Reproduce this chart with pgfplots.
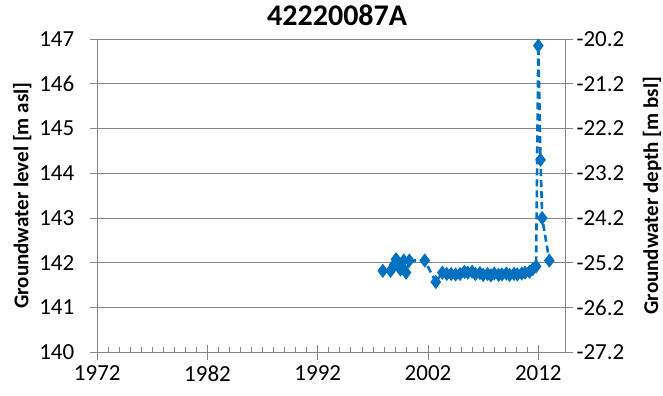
\documentclass[border=0pt]{standalone}
\usepackage{fontspec}
\setmainfont{Carlito}
\usepackage{pgfplots}
\pgfplotsset{compat=1.18}
\definecolor{xblue}{RGB}{0,112,192}
\definecolor{axgray}{RGB}{134,134,134}
\begin{document}
\begin{tikzpicture}
\pgfplotsset{
  common/.style={
    at={(0bp,0bp)}, anchor=south west,
    scale only axis, width=467.7bp, height=313.3bp,
    xmin=1972, xmax=2014.42,
    axis line style={axgray, line width=0.8bp},
    tick style={axgray, line width=0.8bp},
    ticklabel style={font=\fontsize{23bp}{27bp}\selectfont, text=black},
    /pgf/number format/assume math mode=true,
    /pgf/number format/1000 sep={},
  }
}
\begin{axis}[common,
  ymin=140, ymax=147,
  xtick={1972,1982,1992,2002,2012},
  minor x tick num=9,
  ytick={140,141,142,143,144,145,146,147},
  xtick pos=bottom, ytick pos=left,
  axis x line*=bottom, axis y line*=left,
  tick align=center,
  major tick length=15bp, minor tick length=5bp,
  minor x tick style={yshift=2.5bp},
  ymajorgrids, grid style={axgray, line width=0.8bp},
  xticklabel style={yshift=-2bp},
  yticklabel style={xshift=-12bp},
  title={\bfseries 42220087A},
  title style={font=\fontsize{30bp}{34bp}\selectfont, at={(axis description cs:0.5,1)}, anchor=center, yshift=18bp, xshift=6bp},
  ylabel={\bfseries Groundwater level [m asl]},
  ylabel style={font=\fontsize{21bp}{25bp}\selectfont, at={(axis description cs:-0.1604,0.5)}, anchor=center, rotate=0},
]
\addplot[xblue, line width=2.6bp, dash pattern=on 7bp off 4bp, mark=diamond*, mark size=5bp, mark options={solid, fill=xblue}] coordinates {
(1997.9,141.82)
(1998.6,141.82)
(1998.9,141.95)
(1999.1,142.08)
(1999.3,142.00)
(1999.5,141.85)
(1999.8,142.05)
(2000.0,141.78)
(2000.3,142.05)
(2001.7,142.05)
(2002.7,141.57)
(2003.3,141.78)
(2003.7,141.75)
(2004.1,141.75)
(2004.5,141.74)
(2004.9,141.75)
(2005.3,141.80)
(2005.6,141.78)
(2006.0,141.80)
(2006.3,141.75)
(2006.7,141.77)
(2007.0,141.73)
(2007.4,141.75)
(2007.7,141.72)
(2008.0,141.76)
(2008.4,141.73)
(2008.7,141.74)
(2009.1,141.76)
(2009.4,141.73)
(2009.8,141.75)
(2010.1,141.74)
(2010.5,141.76)
(2010.8,141.78)
(2011.2,141.80)
(2011.5,141.86)
(2011.8,141.92)
(2012.0,146.85)
(2012.2,144.30)
(2012.35,143.00)
(2013.0,142.05)
};
\end{axis}
\begin{axis}[common,
  ymin=-27.2, ymax=-20.2,
  axis x line=none, axis y line*=right,
  ytick={-27.2,-26.2,-25.2,-24.2,-23.2,-22.2,-21.2,-20.2},
  yticklabel style={/pgf/number format/.cd, fixed, fixed zerofill, precision=1},
  tick align=outside, major tick length=8bp,
  ylabel={\bfseries Groundwater depth [m bsl]},
  ylabel style={font=\fontsize{21bp}{25bp}\selectfont, at={(axis description cs:1.186,0.5)}, anchor=center, rotate=0},
]
\addplot[draw=none] coordinates {(2000,-25)};
\end{axis}
\pgfresetboundingbox
\path[use as bounding box] (-97.3bp,-43.7bp) rectangle (565.7bp,352.3bp);
\end{tikzpicture}
\end{document}
